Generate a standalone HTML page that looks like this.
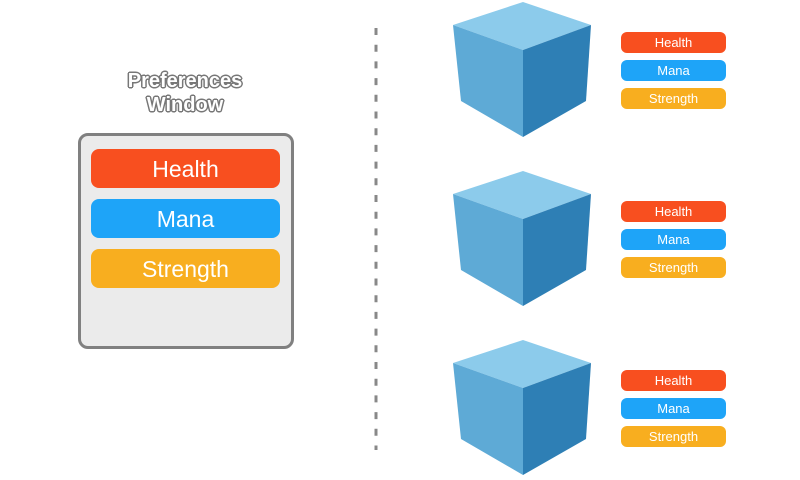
<!DOCTYPE html>
<html><head><style>
body{margin:0;width:800px;height:480px;background:#fff;overflow:hidden;position:relative;font-family:"Liberation Sans",sans-serif}
.pill{position:absolute;color:#fff;text-align:center;border-radius:6px}
.h{background:#f84f1f}.m{background:#1ea4f8}.s{background:#f8ae1f}
.big{left:91px;width:189px;height:39px;line-height:40px;font-size:23px;border-radius:8px}
.sm{left:621px;width:105px;height:21px;line-height:21px;font-size:13px}
</style></head><body>
<div style="position:absolute;left:100px;top:69px;width:170px;text-align:center;font-size:20px;font-weight:bold;line-height:24px;color:#fff;text-shadow:-1.5px 0 #777,1.5px 0 #777,0 -1.5px #777,0 1.5px #777,-1px -1px #777,1px 1px #777,-1px 1px #777,1px -1px #777">Preferences<br>Window</div>
<div style="position:absolute;left:78px;top:133px;width:210px;height:210px;border:3px solid #808080;border-radius:10px;background:#ebebeb"></div>
<div class="pill big h" style="top:149px">Health</div>
<div class="pill big m" style="top:199px">Mana</div>
<div class="pill big s" style="top:249px">Strength</div>
<svg width="800" height="480" style="position:absolute;left:0;top:0">
<line x1="376" y1="28" x2="376" y2="450" stroke="#888" stroke-width="3" stroke-dasharray="7 9.7"/>
<g id="c">
<polygon points="523,2 591,25 523,50 453,25" fill="#8ccbeb"/>
<polygon points="453,25 523,50 523,137 461,101" fill="#5eaad6"/>
<polygon points="523,50 591,25 586,101 523,137" fill="#2e7fb5"/>
</g>
<use href="#c" y="169"/>
<use href="#c" y="338"/>
</svg>
<div class="pill sm h" style="top:32px">Health</div>
<div class="pill sm m" style="top:60px">Mana</div>
<div class="pill sm s" style="top:88px">Strength</div>
<div class="pill sm h" style="top:201px">Health</div>
<div class="pill sm m" style="top:229px">Mana</div>
<div class="pill sm s" style="top:257px">Strength</div>
<div class="pill sm h" style="top:370px">Health</div>
<div class="pill sm m" style="top:398px">Mana</div>
<div class="pill sm s" style="top:426px">Strength</div>
</body></html>
